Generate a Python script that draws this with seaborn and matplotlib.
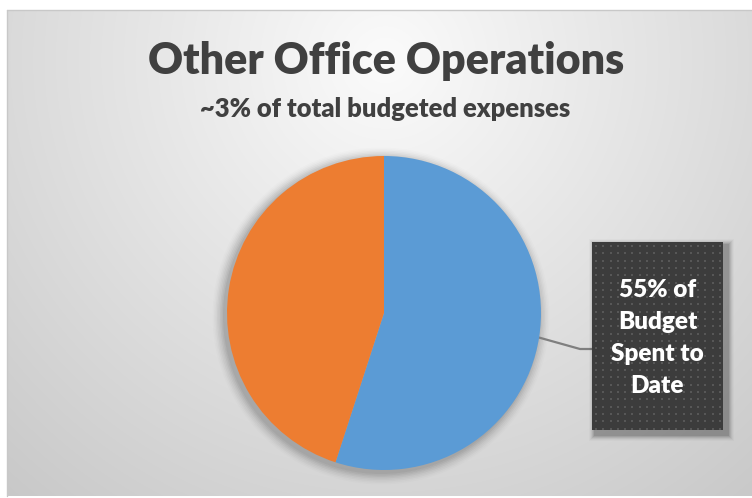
import numpy as np
import matplotlib
matplotlib.use("Agg")
import matplotlib.pyplot as plt
import seaborn as sns

# Budget share spent vs. remaining
categories = ["Spent to Date", "Remaining"]
values = [55, 45]
colors = ["#5B9BD5", "#ED7D31"]

title = "Other Office Operations"
subtitle = "~3% of total budgeted expenses"

sns.set_theme(style="white")
plt.rcParams["font.family"] = ["Lato", "DejaVu Sans"]

W, H = 752, 498
fig = plt.figure(figsize=(W / 100, H / 100), dpi=100)
fig.patch.set_facecolor("white")

# full-figure canvas in pixel coordinates
bg = fig.add_axes([0, 0, 1, 1])
bg.set_xlim(0, W)
bg.set_ylim(H, 0)
bg.axis("off")

# chart area with soft radial gradient
x0, y0, x1, y1 = 7, 10, W, 496
yy, xx = np.mgrid[y0:y1, x0:x1]
dist = np.hypot(xx - 385, (yy - 60) * 1.0)
shade = np.clip(251 - 0.088 * dist, 195, 251) / 255.0
img = np.dstack([shade, shade, shade])
bg.imshow(img, extent=(x0, x1, y1, y0), interpolation="bilinear", zorder=0)
bg.plot([x0, x1], [y0, y0], color="#c8c8c8", lw=1, zorder=1)
bg.plot([x0, x0], [y0, y1], color="#c8c8c8", lw=1, zorder=1)

bg.text(386, 61, title, ha="center", va="center", fontsize=31,
        fontweight="heavy", color="#404040", zorder=3)
bg.text(385, 109, subtitle, ha="center", va="center", fontsize=18.4,
        fontweight="heavy", color="#404040", zorder=3)

# pie geometry (pixels)
cx, cy, r = 384, 313, 157

# soft shadow behind pie
for i, a in enumerate(np.linspace(0.05, 0.012, 8)):
    bg.add_patch(plt.Circle((cx - 3, cy + 3), r + 1 + i * 1.5, color="black",
                            alpha=a, lw=0, zorder=1))

pie_ax = fig.add_axes([(cx - r) / W, (H - cy - r) / H, 2 * r / W, 2 * r / H])
pie_ax.pie(values, colors=colors, startangle=90, counterclock=False,
           radius=1, wedgeprops=dict(linewidth=0))
pie_ax.set_xlim(-1, 1)
pie_ax.set_ylim(-1, 1)
pie_ax.set_aspect("equal")
pie_ax.axis("off")

# callout box
bx0, by0, bx1, by1 = 592, 242, 723, 430
for i, a in enumerate(np.linspace(0.10, 0.02, 6)):
    bg.add_patch(plt.Rectangle((bx0 + 2 - i, by0 + 2 - i), (bx1 - bx0) + 4 + 2 * i,
                               (by1 - by0) + 4 + 2 * i, color="black", alpha=a,
                               lw=0, zorder=4))
bg.add_patch(plt.Rectangle((bx0, by0), bx1 - bx0, by1 - by0, color="#3c3c3c",
                           lw=0, zorder=5))
gx, gy = np.meshgrid(np.arange(bx0 + 4, bx1, 7.3), np.arange(by0 + 4, by1, 7.3))
bg.scatter(gx.ravel(), gy.ravel(), s=4, marker="s", color="#575757",
           lw=0, zorder=6)

spent = values[0]
bg.text((bx0 + bx1) / 2, (by0 + by1) / 2 + 2,
        f"{spent}% of\nBudget\nSpent to\nDate", ha="center", va="center",
        fontsize=17.5, fontweight="heavy", color="white", linespacing=1.55,
        zorder=7)

# leader line from the middle of the spent wedge to the box
mid = np.deg2rad(90 - 360 * spent / sum(values) / 2)
sx, sy = cx + r * np.cos(mid), cy - r * np.sin(mid)
bg.plot([sx, 580, bx0], [sy, 349, 349], color="#7f7f7f", lw=1.6, zorder=3)

fig.savefig("out.png", dpi=100)
